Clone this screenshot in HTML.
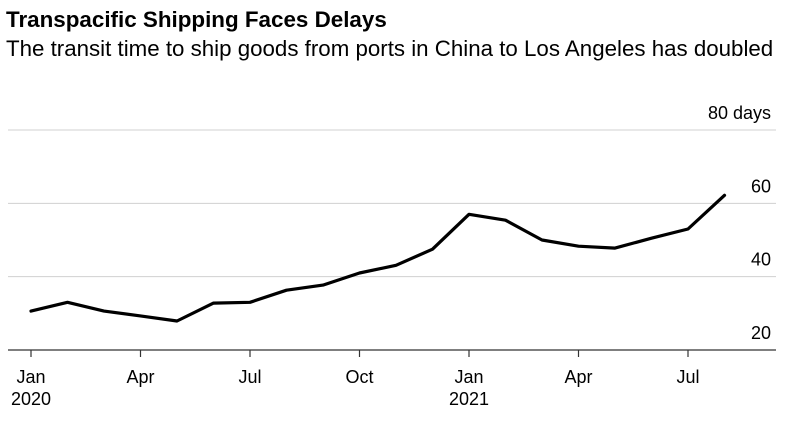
<!DOCTYPE html>
<html><head><meta charset="utf-8"><style>
body{margin:0;background:#fff;font-family:"Liberation Sans",sans-serif;}
svg text{font-family:"Liberation Sans",sans-serif;}
</style></head><body>
<svg width="794" height="421" viewBox="0 0 794 421">
<text x="6" y="27" font-size="22.4" font-weight="bold" fill="#000">Transpacific Shipping Faces Delays</text>
<text x="6" y="56" font-size="22.3" fill="#000">The transit time to ship goods from ports in China to Los Angeles has doubled</text>
<g id="grid"></g><g id="xaxis"></g><g id="series"></g>
</svg>
<script>
const months=["Jan","Feb","Mar","Apr","May","Jun","Jul","Aug","Sep","Oct","Nov","Dec","Jan","Feb","Mar","Apr","May","Jun","Jul","Aug"];
const values=[30.6,33,30.6,29.3,27.9,32.8,33,36.3,37.7,41,43.1,47.5,57,55.4,50,48.3,47.8,50.5,53,62.2];
const yTicks=[20,40,60,80];
const yTickLabels=["20","40","60","80 days"];
const xTickIdx=[0,3,6,9,12,15,18];
const xTickLabels=["Jan","Apr","Jul","Oct","Jan","Apr","Jul"];
const xYearLabels=["2020","","","","2021","",""];
const NS="http://www.w3.org/2000/svg";
function x(i){return 31+i*(688-31)/18;}
function y(v){return 350-(v-20)*(350-130)/60;}
function mk(tag,attrs,parent,text){const e=document.createElementNS(NS,tag);for(const k in attrs)e.setAttribute(k,attrs[k]);if(text!==undefined)e.textContent=text;parent.appendChild(e);return e;}
const g=document.getElementById('grid'),xa=document.getElementById('xaxis'),s=document.getElementById('series');
yTicks.forEach((t,i)=>{
 if(t!==20){const l=mk('line',{x1:8,x2:776,y1:y(t),y2:y(t),stroke:'#d0d0d0','stroke-width':1},g);
 
 }
 const tx=mk('text',{x:771,y:y(t)-11,'font-size':18,'text-anchor':'end',fill:'#000'},g,yTickLabels[i]);
 
 
});
const base=mk('line',{x1:8,x2:776,y1:350,y2:350,stroke:'#333','stroke-width':1.3},xa);


xTickIdx.forEach((idx,i)=>{
 const tk=mk('line',{x1:x(idx),x2:x(idx),y1:350,y2:357,stroke:'#333','stroke-width':1.2},xa);
 
 
 const lb=mk('text',{x:x(idx),y:383,'font-size':18,'text-anchor':'middle',fill:'#000'},xa,xTickLabels[i]);
 
 
 if(xYearLabels[i]){const yl=mk('text',{x:x(idx),y:405,'font-size':18,'text-anchor':'middle',fill:'#000'},xa,xYearLabels[i]);
 
 }
});
const d=values.map((v,i)=>(i?'L':'M')+x(i).toFixed(1)+','+y(v).toFixed(1)).join(' ');
const p=mk('path',{d:d,fill:'none',stroke:'#000','stroke-width':3.2,'stroke-linejoin':'round','stroke-linecap':'round'},s);


</script>
</body></html>
